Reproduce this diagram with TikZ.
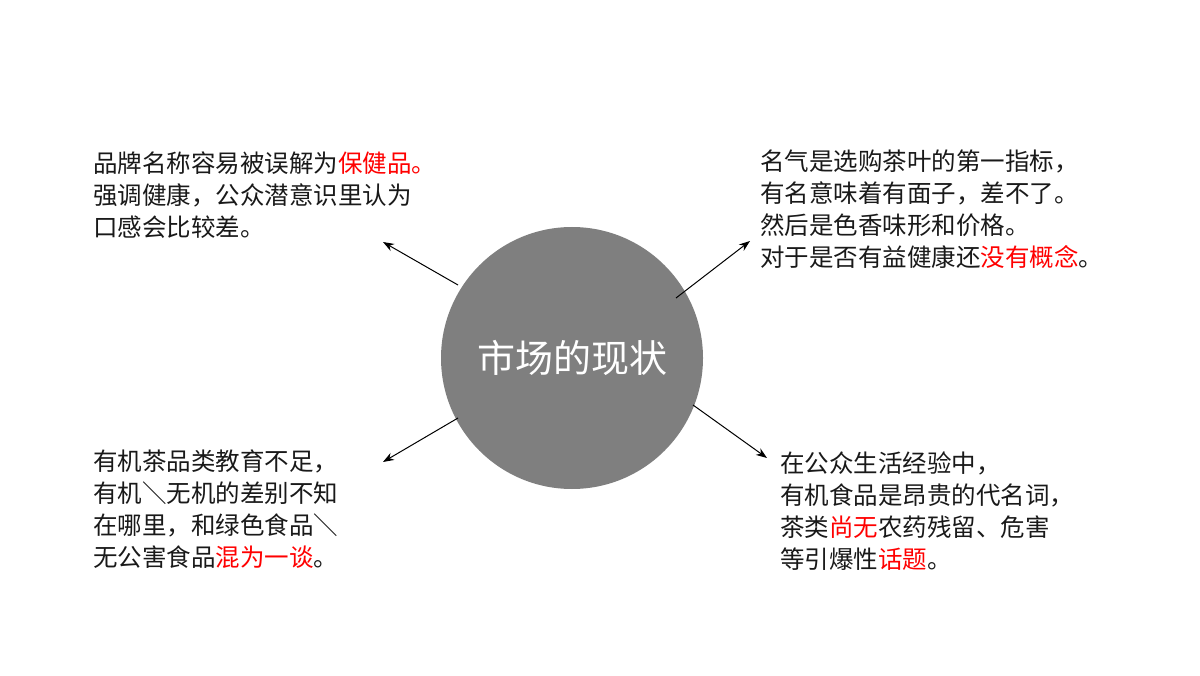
\documentclass[tikz,border=0pt]{standalone}
\usepackage{fontspec}
\setmainfont{Noto Sans CJK SC}
\usetikzlibrary{arrows.meta}
\definecolor{hl}{HTML}{FF0000}
\definecolor{cgray}{HTML}{7F7F7F}
\begin{document}
\begin{tikzpicture}[x=1pt,y=-1pt,
  txt/.style={anchor=north west,align=left,inner sep=0pt,font=\fontsize{24.5}{32}\selectfont,text=black!90},
  arr/.style={-{Stealth[length=11pt,width=8pt]},line width=1pt}]
\useasboundingbox (0,0) rectangle (1200,676);
\node[circle,fill=cgray,minimum size=262pt,inner sep=0pt,text=white,font=\fontsize{38}{44}\selectfont] (c) at (572,358) {市场的现状};
\node[txt] (tl) at (93,152) {品牌名称容易被误解为\textcolor{hl}{保健品。}\\强调健康，公众潜意识里认为\\口感会比较差。};
\node[txt] (tr) at (760,150) {名气是选购茶叶的第一指标，\\有名意味着有面子，差不了。\\然后是色香味形和价格。\\对于是否有益健康还\textcolor{hl}{没有概念}。};
\node[txt] (bl) at (93,450) {有机茶品类教育不足，\\有机＼无机的差别不知\\在哪里，和绿色食品＼\\无公害食品\textcolor{hl}{混为一谈}。};
\node[txt] (br) at (780,452) {在公众生活经验中，\\有机食品是昂贵的代名词，\\茶类\textcolor{hl}{尚无}农药残留、危害\\等引爆性\textcolor{hl}{话题}。};
\coordinate (a1) at (458,285); \coordinate (b1) at (383,242);
\coordinate (a2) at (676,298); \coordinate (b2) at (750,241);
\coordinate (a3) at (458,418); \coordinate (b3) at (383,462);
\coordinate (a4) at (693,405); \coordinate (b4) at (767,458);
\draw[arr] (a1) -- (b1);
\draw[arr] (a2) -- (b2);
\draw[arr] (a3) -- (b3);
\draw[arr] (a4) -- (b4);
\end{tikzpicture}
\end{document}
